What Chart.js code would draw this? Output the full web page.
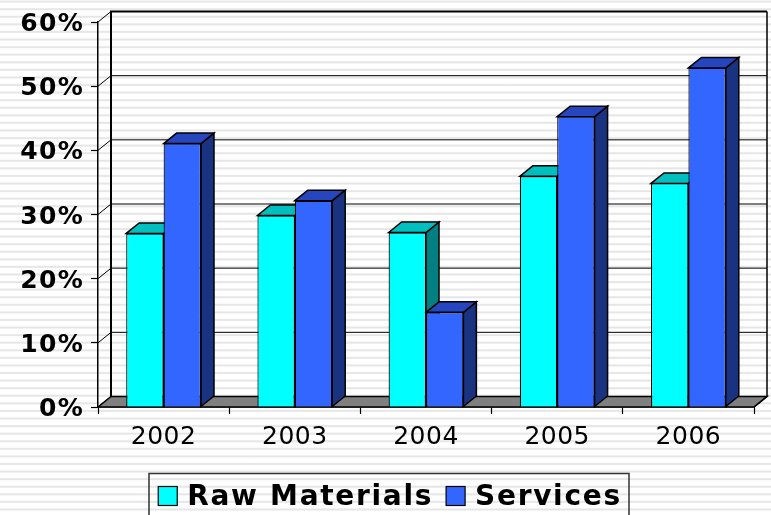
<!DOCTYPE html>
<html><head><meta charset="utf-8">
<style>
html,body{margin:0;padding:0;width:771px;height:515px;overflow:hidden;background-color:#fff;
background-image:repeating-linear-gradient(to bottom,#fff 0,#f4f4f4 0.5px,#e6e6e6 1.2px,#e6e6e6 2px,#f6f6f6 2.8px,#fff 3.2px,#fff 7.58px);}
canvas{display:block}
</style>
<script src="https://cdn.jsdelivr.net/npm/chart.js@4"></script>
</head><body><canvas id="c" width="771" height="515"></canvas>
<script>
const categories=['2002','2003','2004','2005','2006'];
const rawMaterials=[27.05,29.85,27.2,35.95,34.85];
const services=[41.05,32.15,14.75,45.25,52.85];
const seriesNames=['Raw Materials','Services'];
const seriesColors=['#00FFFF','#3366FF'];
const DX=13,DY=10.5;
const faces=[{top:'#00BFBF',side:'#008080'},{top:'#2646BF',side:'#1A3380'}];
const LEGEND_SHIFT=13;
function poly(ctx,pts,fill,lw){ctx.beginPath();pts.forEach((p,i)=>i?ctx.lineTo(p[0],p[1]):ctx.moveTo(p[0],p[1]));ctx.closePath();ctx.fillStyle=fill;ctx.fill();ctx.lineWidth=lw;ctx.strokeStyle='#000';ctx.stroke();}
function wrapLabels(scale,spacing,dy){
 if(scale._wrapped)return;scale._wrapped=true;
 const orig=scale.drawLabels;
 scale.drawLabels=function(a){const c=this.ctx;const prev=c.letterSpacing;c.save();c.letterSpacing=spacing;c.translate(0,dy);orig.call(this,a);c.restore();c.letterSpacing=prev;};
}
const depth={id:'depth',
 beforeUpdate(chart){chart.ctx.letterSpacing='1.7px';},
 afterLayout(chart){
  const g=chart.legend;g.top+=7;g.left+=LEGEND_SHIFT;g.right+=LEGEND_SHIFT;
  wrapLabels(chart.scales.x,'0.5px',0);
  wrapLabels(chart.scales.y,'1.3px',2.5);
 },
 beforeDraw(chart){chart.ctx.letterSpacing='1.7px';},
 beforeDatasetsDraw(chart){
  const {ctx,chartArea:a,scales:{y}}=chart;ctx.save();
  poly(ctx,[[a.left,a.bottom],[a.left+DX,a.bottom-DY],[a.right+DX,a.bottom-DY],[a.right,a.bottom]],'#808080',1.5);
  ctx.strokeStyle='#000';ctx.lineWidth=1;
  y.ticks.forEach(t=>{const p=y.getPixelForValue(t.value);
   ctx.beginPath();ctx.moveTo(a.left,p);ctx.lineTo(a.left+DX,p-DY);ctx.lineTo(a.right+DX,p-DY);ctx.stroke();});
  ctx.lineWidth=2;ctx.beginPath();ctx.moveTo(a.left+DX,a.bottom-DY);ctx.lineTo(a.left+DX,a.top-DY);ctx.lineTo(a.right+DX,a.top-DY);ctx.stroke();
  ctx.lineWidth=1.5;ctx.beginPath();ctx.moveTo(a.right+DX,a.top-DY);ctx.lineTo(a.right+DX,a.bottom-DY);ctx.lineTo(a.right,a.bottom);ctx.stroke();
  chart.data.datasets.forEach((d,i)=>{chart.getDatasetMeta(i).data.forEach(b=>{
   const l=b.x-b.width/2,r=b.x+b.width/2;
   poly(ctx,[[r,b.y],[r+DX,b.y-DY],[r+DX,b.base-DY],[r,b.base]],faces[i].side,1.5);
   poly(ctx,[[l,b.y],[l+DX,b.y-DY],[r+DX,b.y-DY],[r,b.y]],faces[i].top,1.5);
  });});
  ctx.restore();
 },
 afterDraw(chart){const {ctx,legend:g}=chart;ctx.save();ctx.strokeStyle='#333';ctx.lineWidth=1.5;
  ctx.strokeRect(149,473.5,480,60);
  g.legendHitBoxes.forEach((h,i)=>{ctx.fillStyle=seriesColors[i];ctx.strokeStyle='#000';ctx.lineWidth=1.2;
   ctx.fillRect(h.left,486.5,19,19);ctx.strokeRect(h.left,486.5,19,19);});
  ctx.restore();}
};
new Chart(document.getElementById('c'),{type:'bar',
 data:{labels:categories,datasets:[
  {label:seriesNames[0],data:rawMaterials,backgroundColor:seriesColors[0],borderColor:'#000',borderWidth:1.2},
  {label:seriesNames[1],data:services,backgroundColor:seriesColors[1],borderColor:'#000',borderWidth:1.2}]},
 options:{responsive:false,animation:false,devicePixelRatio:1,
  categoryPercentage:0.57,barPercentage:1,
  layout:{padding:{left:0,right:17,top:21,bottom:0}},
  plugins:{tooltip:{enabled:false},
   legend:{position:'bottom',labels:{color:'#000',boxWidth:15,boxHeight:19,padding:13,
     font:{family:'DejaVu Sans',weight:'bold',size:28},
     generateLabels(chart){return chart.data.datasets.map((d,i)=>({text:d.label,fillStyle:'rgba(0,0,0,0)',strokeStyle:'rgba(0,0,0,0)',lineWidth:0,datasetIndex:i,hidden:false}));}}}},
  scales:{
   x:{afterFit(s){s.height=515-407-s.chart.legend.height;},
      grid:{drawOnChartArea:false,tickLength:7,tickColor:'#000',tickWidth:1.2},
      border:{color:'#000',width:1.5},
      ticks:{color:'#000',padding:8,maxRotation:0,font:{family:'DejaVu Sans',size:25}}},
   y:{min:0,max:60,afterFit(s){s.width=98;},
      grid:{drawOnChartArea:false,tickLength:7,tickColor:'#000',tickWidth:1.2},
      border:{color:'#000',width:1.5},
      ticks:{stepSize:10,color:'#000',padding:7,callback:v=>v+'%',font:{family:'DejaVu Sans',weight:'bold',size:25}}}
  }},
 plugins:[depth]});
</script></body></html>
